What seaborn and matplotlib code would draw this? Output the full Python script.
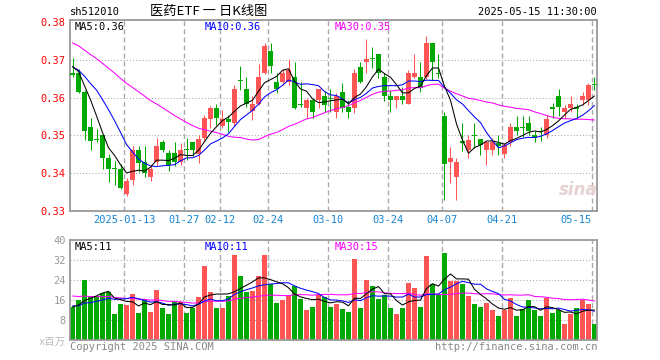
import numpy as np
import pandas as pd
import matplotlib
matplotlib.use("Agg")
import matplotlib.pyplot as plt
import seaborn as sns

# ---------------- data ----------------
open_ = [0.3665, 0.3664, 0.3614, 0.3521, 0.3490, 0.3500, 0.3440, 0.3413, 0.3410, 0.3344,
         0.3381, 0.3461, 0.3430, 0.3391, 0.3430, 0.3483, 0.3453, 0.3453, 0.3430, 0.3462,
         0.3482, 0.3450, 0.3492, 0.3544, 0.3573, 0.3524, 0.3543, 0.3532, 0.3645, 0.3623,
         0.3565, 0.3582, 0.3664, 0.3724, 0.3642, 0.3642, 0.3642, 0.3653, 0.3583, 0.3572,
         0.3594, 0.3594, 0.3603, 0.3599, 0.3563, 0.3614, 0.3574, 0.3572, 0.3682, 0.3695,
         0.3704, 0.3714, 0.3653, 0.3605, 0.3594, 0.3605, 0.3582, 0.3653, 0.3653, 0.3653,
         0.3743, 0.3665, 0.3550, 0.3430, 0.3389, 0.3483, 0.3462, 0.3501, 0.3490, 0.3462,
         0.3462, 0.3480, 0.3451, 0.3482, 0.3521, 0.3522, 0.3532, 0.3500, 0.3509, 0.3500,
         0.3573, 0.3603, 0.3561, 0.3572, 0.3573, 0.3594, 0.3594, 0.3634]
high = [0.3704, 0.3675, 0.3620, 0.3546, 0.3518, 0.3500, 0.3451, 0.3432, 0.3423, 0.3388,
        0.3471, 0.3472, 0.3472, 0.3419, 0.3492, 0.3489, 0.3461, 0.3483, 0.3481, 0.3492,
        0.3482, 0.3500, 0.3555, 0.3578, 0.3582, 0.3568, 0.3554, 0.3633, 0.3684, 0.3653,
        0.3605, 0.3688, 0.3745, 0.3743, 0.3664, 0.3675, 0.3703, 0.3695, 0.3642, 0.3598,
        0.3598, 0.3623, 0.3616, 0.3623, 0.3611, 0.3638, 0.3594, 0.3675, 0.3695, 0.3754,
        0.3734, 0.3714, 0.3664, 0.3620, 0.3605, 0.3629, 0.3673, 0.3714, 0.3695, 0.3763,
        0.3743, 0.3714, 0.3561, 0.3470, 0.3439, 0.3532, 0.3500, 0.3532, 0.3490, 0.3482,
        0.3493, 0.3500, 0.3480, 0.3532, 0.3550, 0.3550, 0.3550, 0.3512, 0.3521, 0.3554,
        0.3585, 0.3623, 0.3579, 0.3603, 0.3582, 0.3614, 0.3638, 0.3653]
low = [0.3653, 0.3611, 0.3489, 0.3462, 0.3482, 0.3410, 0.3376, 0.3370, 0.3359, 0.3339,
       0.3370, 0.3404, 0.3391, 0.3379, 0.3422, 0.3455, 0.3407, 0.3419, 0.3422, 0.3435,
       0.3445, 0.3428, 0.3485, 0.3519, 0.3527, 0.3519, 0.3510, 0.3524, 0.3620, 0.3576,
       0.3541, 0.3579, 0.3661, 0.3664, 0.3611, 0.3633, 0.3633, 0.3570, 0.3576, 0.3547,
       0.3547, 0.3572, 0.3563, 0.3563, 0.3547, 0.3563, 0.3547, 0.3559, 0.3638, 0.3664,
       0.3677, 0.3651, 0.3591, 0.3561, 0.3572, 0.3582, 0.3582, 0.3651, 0.3614, 0.3649,
       0.3646, 0.3651, 0.3328, 0.3374, 0.3328, 0.3458, 0.3440, 0.3467, 0.3449, 0.3421,
       0.3449, 0.3449, 0.3439, 0.3471, 0.3500, 0.3495, 0.3500, 0.3482, 0.3486, 0.3493,
       0.3547, 0.3550, 0.3547, 0.3563, 0.3546, 0.3581, 0.3581, 0.3620]
close = [0.3660, 0.3614, 0.3512, 0.3484, 0.3488, 0.3440, 0.3412, 0.3411, 0.3361, 0.3379,
         0.3461, 0.3427, 0.3401, 0.3411, 0.3472, 0.3461, 0.3422, 0.3430, 0.3461, 0.3460,
         0.3461, 0.3490, 0.3545, 0.3572, 0.3546, 0.3544, 0.3534, 0.3623, 0.3643, 0.3582,
         0.3582, 0.3653, 0.3736, 0.3684, 0.3623, 0.3664, 0.3673, 0.3572, 0.3581, 0.3594,
         0.3563, 0.3623, 0.3581, 0.3597, 0.3605, 0.3572, 0.3563, 0.3664, 0.3642, 0.3703,
         0.3702, 0.3664, 0.3605, 0.3594, 0.3605, 0.3594, 0.3664, 0.3664, 0.3625, 0.3743,
         0.3695, 0.3663, 0.3423, 0.3440, 0.3430, 0.3481, 0.3489, 0.3499, 0.3474, 0.3482,
         0.3482, 0.3471, 0.3474, 0.3521, 0.3512, 0.3520, 0.3512, 0.3493, 0.3508, 0.3544,
         0.3571, 0.3574, 0.3572, 0.3582, 0.3571, 0.3603, 0.3633, 0.3632]
volume = [13.2, 15.9, 23.9, 17.6, 17.6, 18.9, 19.3, 10.5, 14.5, 13.9,
          18.3, 10.9, 16.3, 11.3, 19.9, 12.7, 10.5, 15.6, 15.3, 10.9,
          12.9, 17.3, 29.7, 19.1, 12.9, 12.9, 17.7, 33.9, 25.7, 19.3,
          19.6, 25.7, 33.9, 22.3, 14.9, 15.9, 17.5, 21.6, 16.3, 11.9,
          13.3, 18.5, 17.2, 13.3, 14.3, 12.3, 11.3, 32.3, 12.9, 23.9,
          21.5, 16.3, 18.0, 12.7, 10.3, 12.7, 22.7, 20.7, 13.3, 33.5,
          22.3, 18.0, 34.7, 23.6, 23.6, 22.3, 17.5, 14.3, 13.3, 14.9,
          11.9, 9.5, 11.9, 16.7, 9.7, 12.5, 15.9, 11.9, 9.5, 16.7,
          10.7, 11.9, 6.5, 10.3, 12.9, 15.9, 14.3, 6.5]
# estimated history before the first visible day (needed for the moving averages)
prior_close = [0.384, 0.386, 0.383, 0.381, 0.382, 0.379, 0.380, 0.378, 0.377, 0.379,
               0.376, 0.375, 0.377, 0.374, 0.376, 0.373, 0.375, 0.372, 0.374, 0.371,
               0.370, 0.367, 0.368, 0.366, 0.369, 0.368, 0.370, 0.367, 0.370]
prior_volume = [22, 18, 25, 17, 20, 16, 24, 19, 21, 15,
                23, 18, 20, 17, 22, 19, 16, 21, 18, 21,
                15, 13, 16, 12, 14, 12, 15, 13, 12.8]
tick_idx = [9, 19, 25, 33, 43, 53, 62, 72, 87]
tick_labels = ["2025-01-13", "01-27", "02-12", "02-24", "03-10", "03-24", "04-07", "04-21", "05-15"]
price_ticks = [0.33, 0.34, 0.35, 0.36, 0.37, 0.38]
vol_ticks = [8, 16, 24, 32, 40]

# ---------------- style ----------------
sns.set_style("white")
plt.rcParams["font.family"] = ["DejaVu Sans Mono", "Noto Sans CJK SC"]

RED = "#ff5555"
GREEN = "#00a800"
GRID = "#aaaaaa"
SPINE = "#999999"
W, H = 660, 360

n = len(close)
idx = np.arange(n)
df = pd.DataFrame({"i": idx, "open": open_, "high": high, "low": low,
                   "close": close, "volume": volume})
df["up"] = df["close"] >= df["open"]
colors = np.where(df["up"], RED, GREEN)

cfull = pd.Series(prior_close + close)
vfull = pd.Series(prior_volume + volume)
for k in (5, 10, 30):
    df[f"ma{k}"] = cfull.rolling(k).mean().iloc[-n:].to_numpy()
    df[f"vma{k}"] = vfull.rolling(k).mean().iloc[-n:].to_numpy()

fig = plt.figure(figsize=(W / 100, H / 100), dpi=100)
ax = fig.add_axes([70 / W, 1 - 211 / H, 527 / W, 191 / H])
axv = fig.add_axes([70 / W, 1 - 340 / H, 527 / W, 100 / H])

xmin, xmax = -2.5 / 6, 87 + 2.5 / 6
grid_x = [t - 2.5 / 6 for t in tick_idx]
LW = 0.75

# ---------------- price panel ----------------
for gx in grid_x:
    ax.axvline(gx, color=GRID, lw=1.0, ls=(0, (3.6, 2.2)), zorder=0)
for p in [0.34, 0.35, 0.36, 0.37]:
    ax.axhline(p, color=GRID, lw=0.75, ls=(0, (1, 2)), zorder=0)

ax.vlines(df["i"], df["low"], df["high"], colors=colors, lw=LW, zorder=2)
body_bottom = np.minimum(df["open"], df["close"])
body_h = np.maximum(np.abs(df["close"] - df["open"]), 0.00028)
ax.bar(df["i"], body_h, bottom=body_bottom, width=5 / 6, color=colors, linewidth=0, zorder=3)

sns.lineplot(data=df, x="i", y="ma30", ax=ax, color="#ff00ff", lw=LW, zorder=4)
sns.lineplot(data=df, x="i", y="ma10", ax=ax, color="#0000ff", lw=LW, zorder=5)
sns.lineplot(data=df, x="i", y="ma5", ax=ax, color="#000000", lw=LW, zorder=6)

ax.set_xlim(xmin, xmax)
ax.set_ylim(0.33, 0.3805)
ax.set_yticks(price_ticks)
ax.set_yticklabels([f"{v:.2f}" for v in price_ticks], color="#ff0000", fontsize=7.5)
ax.set_xticks(grid_x)
ax.set_xticklabels(tick_labels, color="#1584d6", fontsize=7.5)
ax.get_xticklabels()[-1].set_horizontalalignment("right")
ax.tick_params(length=0, pad=3)
ax.set_xlabel("")
ax.set_ylabel("")

# ---------------- volume panel ----------------
for gx in grid_x:
    axv.axvline(gx, color=GRID, lw=1.0, ls=(0, (3.6, 2.2)), zorder=0)
for v in [8, 16, 24, 32]:
    axv.axhline(v, color=GRID, lw=0.75, ls=(0, (1, 2)), zorder=0)
axv.bar(df["i"], df["volume"], width=5 / 6, color=colors, linewidth=0, zorder=2)
sns.lineplot(data=df, x="i", y="vma30", ax=axv, color="#ff00ff", lw=LW, zorder=4)
sns.lineplot(data=df, x="i", y="vma10", ax=axv, color="#0000ff", lw=LW, zorder=5)
sns.lineplot(data=df, x="i", y="vma5", ax=axv, color="#000000", lw=LW, zorder=6)
axv.set_xlim(xmin, xmax)
axv.set_ylim(0, 40)
axv.set_yticks(vol_ticks)
axv.set_yticklabels([str(v) for v in vol_ticks], color="#999999", fontsize=7.5)
axv.set_xticks([])
axv.tick_params(length=0, pad=3)
axv.set_xlabel("")
axv.set_ylabel("")

for a in (ax, axv):
    for s in a.spines.values():
        s.set_visible(True)
        s.set_color(SPINE)
        s.set_linewidth(1.3)

# ---------------- texts ----------------
def ftext(x, y, s, **kw):
    fig.text(x / W, 1 - y / H, s, va="center", **kw)

ftext(70, 12, "sh512010", fontsize=7.5, color="black")
ftext(209, 12, "医药ETF 一 日K线图", fontsize=9.5, color="black", ha="center",
      family=["Noto Sans CJK SC", "DejaVu Sans"])
ftext(597, 12, "2025-05-15 11:30:00", fontsize=7.5, color="black", ha="right")

ftext(75, 27, "MA5:0.36", fontsize=7.5, color="black")
ftext(205, 27, "MA10:0.36", fontsize=7.5, color="#0000ff")
ftext(335, 27, "MA30:0.35", fontsize=7.5, color="#ff00ff")

ftext(75, 247, "MA5:11", fontsize=7.5, color="black")
ftext(205, 247, "MA10:11", fontsize=7.5, color="#0000ff")
ftext(335, 247, "MA30:15", fontsize=7.5, color="#ff00ff")

ftext(66, 342, "x百万", fontsize=7.5, color="#bbbbbb", ha="right",
      family=["DejaVu Sans Mono", "Noto Sans CJK SC"])
ftext(70, 347, "Copyright 2025 SINA.COM", fontsize=7.5, color="#888888")
ftext(597, 347, "http://finance.sina.com.cn", fontsize=7.5, color="#888888", ha="right")
ftext(578, 190, "sina", fontsize=12, color="#e6d2d2", ha="center", style="italic",
      fontweight="bold", family=["DejaVu Sans"])

fig.savefig("out.png", dpi=100, facecolor="white")
